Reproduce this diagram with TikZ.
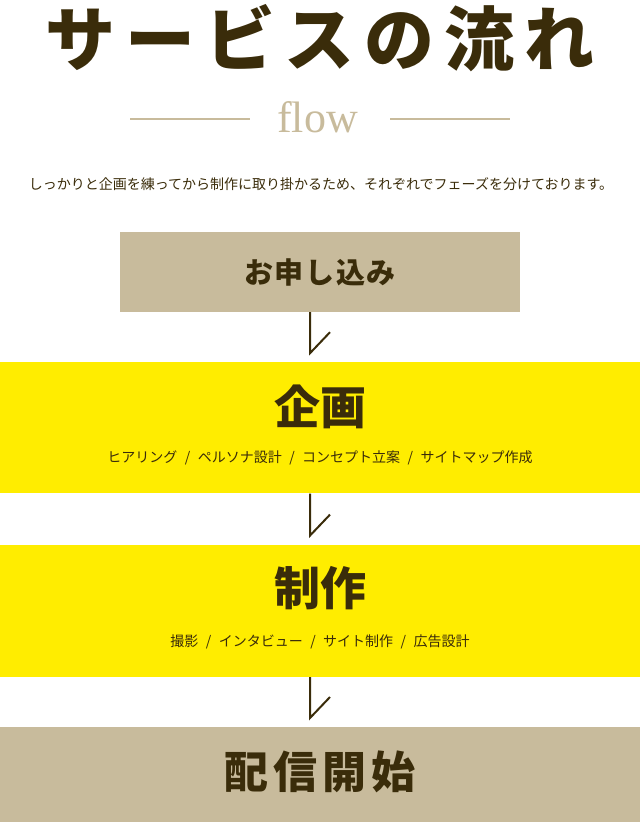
\documentclass[tikz,border=0pt]{standalone}
\usepackage{fontspec}
\setmainfont{Liberation Serif}
\newfontfamily\cjk{Noto Sans CJK JP}
\usetikzlibrary{positioning}
\definecolor{ink}{HTML}{3A2C0A}
\definecolor{sand}{HTML}{C8BB9C}
\definecolor{lemon}{HTML}{FFED00}
\newcommand\sep{\hspace{7.5pt}/\hspace{7.5pt}}

\begin{document}
\begin{tikzpicture}[x=1pt,y=1pt,
        band/.style={fill=#1, inner sep=0pt, minimum width=640pt},
        head/.style={text=ink, inner sep=0pt, font=\cjk\bfseries\fontsize{#1}{#1}\selectfont},
        small/.style={text=ink, inner sep=0pt, font=\cjk\fontsize{14}{14}\selectfont},
        link/.style={draw=ink, line width=2pt}]
        \useasboundingbox (0,0) rectangle (640,-822);
        \node (title) [head=70] at (320,-38) {\addfontfeature{LetterSpace=14}サービスの流れ};
        \node (flow) [text=sand, inner sep=0pt, anchor=base, font=\fontsize{44}{44}\selectfont] at (317.5,-132) {flow};
        \draw [sand, line width=1.5pt] (130,-119) -- (250,-119) (390,-119) -- (510,-119);
        \node (lead) [small] at (321,-184) {しっかりと企画を練ってから制作に取り掛かるため、それぞれでフェーズを分けております。};
        % steps
        \node (apply) [band=sand, minimum width=400pt, minimum height=80pt] at (320,-272) {};
        \node [head=29] at (apply.center) {\addfontfeature{LetterSpace=6}お申し込み};
        \node (plan) [band=lemon, minimum height=131pt, below=50pt of apply] {};
        \node (plantitle) [head=46] at ([yshift=-45pt]plan.north) {企画};
        \node (plansub) [small] at ([yshift=-96pt]plan.north) {ヒアリング\sep ペルソナ設計\sep コンセプト立案\sep サイトマップ作成};
        \node (make) [band=lemon, minimum height=132pt, below=51pt of plan] {};
        \node (maketitle) [head=46] at ([yshift=-44pt]make.north) {制作};
        \node (makesub) [small] at ([yshift=-97pt]make.north) {撮影\sep インタビュー\sep サイト制作\sep 広告設計};
        \node (launch) [band=sand, minimum height=96pt, below=50pt of make] {};
        \node [head=44] at ([yshift=3pt]launch.center) {\addfontfeature{LetterSpace=12}配信開始};
        % connectors
        \foreach \a/\b in {apply/plan, plan/make, make/launch} {
            \coordinate (tip) at ([xshift=-10pt, yshift=9pt]\b.north);
            \draw [link] ([xshift=-10pt]\a.south) -- (tip) -- ++(20,21);
        }
    \end{tikzpicture}
\end{document}
